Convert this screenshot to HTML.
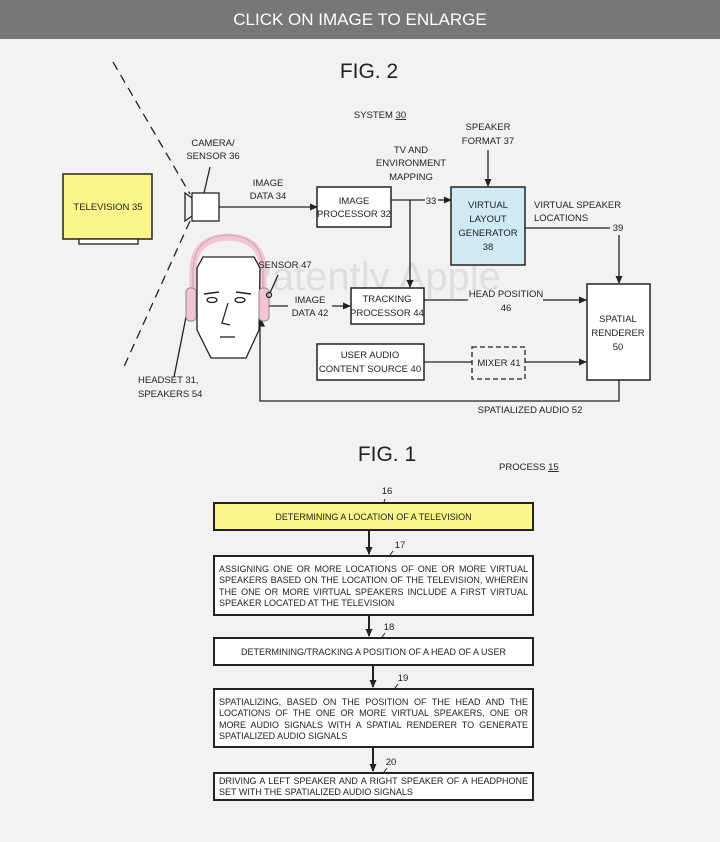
<!DOCTYPE html>
<html><head><meta charset="utf-8"><style>
html,body{margin:0;padding:0;background:#f2f2f2;}
body{width:720px;height:842px;overflow:hidden;position:relative;font-family:"Liberation Sans",sans-serif;}
.hdr{position:absolute;left:0;top:0;width:720px;height:39px;background:#777;color:#fff;font-size:17px;text-align:center;line-height:39px;}
.box{position:absolute;box-sizing:border-box;border:2px solid #222;background:#fff;font-size:9px;color:#222;padding:3px 4px;line-height:11.3px;white-space:nowrap;}
.box div{text-align:justify;text-align-last:justify;}
.box div.l{text-align:left;text-align-last:left;}
.c{text-align:center;}
</style></head><body>
<div class="hdr">CLICK ON IMAGE TO ENLARGE</div>
<svg width="720" height="842" style="position:absolute;left:0;top:0" font-family="Liberation Sans, sans-serif" fill="#222">
<defs><marker id="a" markerWidth="8" markerHeight="8" refX="7" refY="4" orient="auto" markerUnits="userSpaceOnUse"><path d="M0,0.5 L8,4 L0,7.5z" fill="#222"/></marker></defs>
<text x="369" y="78" font-size="21" text-anchor="middle">FIG. 2</text>
<text x="380" y="118" font-size="9.5" text-anchor="middle">SYSTEM <tspan text-decoration="underline">30</tspan></text>
<text x="373" y="290" font-size="40" fill="#ccc" opacity="0.5" text-anchor="middle">Patently Apple</text>
<g stroke="#222" stroke-width="1.3" fill="none">
<line x1="113" y1="62" x2="190" y2="194" stroke-dasharray="9,6"/>
<line x1="190" y1="221" x2="122" y2="371" stroke-dasharray="9,6"/>
<rect x="63" y="174" width="89" height="65" fill="#fbf58a" stroke-width="1.5"/>
<rect x="79" y="239" width="59" height="5" fill="#fff"/>
<rect x="192" y="193" width="27" height="28" fill="#fff"/>
<path d="M192,198 L185,193 L185,221 L192,216"/>
<line x1="210" y1="167" x2="204" y2="193"/>
<line x1="219" y1="207" x2="317" y2="207" marker-end="url(#a)"/>
<rect x="317" y="187" width="74" height="40" fill="#fff" stroke-width="1.5"/>
<line x1="391" y1="200" x2="425" y2="200"/>
<line x1="438" y1="200" x2="451" y2="200" marker-end="url(#a)"/>
<line x1="410" y1="200" x2="410" y2="287" marker-end="url(#a)"/>
<line x1="488" y1="150" x2="488" y2="186" marker-end="url(#a)"/>
<rect x="451" y="187" width="74" height="78" fill="#cfe9f5" stroke-width="1.5"/>
<line x1="525" y1="228" x2="610" y2="228"/>
<line x1="619" y1="235" x2="619" y2="283" marker-end="url(#a)"/>
<rect x="587" y="284" width="63" height="96" fill="#fff" stroke-width="1.5"/>
<rect x="351" y="288" width="73" height="36" fill="#fff" stroke-width="1.5"/>
<line x1="424" y1="300" x2="468" y2="300"/><line x1="543" y1="300" x2="586" y2="300" marker-end="url(#a)"/>
<line x1="268" y1="306" x2="288" y2="306"/><line x1="332" y1="306" x2="350" y2="306" marker-end="url(#a)"/>
<rect x="317" y="344" width="107" height="36" fill="#fff" stroke-width="1.5"/>
<line x1="424" y1="362" x2="472" y2="362"/>
<rect x="472" y="347" width="53" height="32" stroke-dasharray="5,3"/>
<line x1="525" y1="362" x2="586" y2="362" marker-end="url(#a)"/>
<polyline points="619,380 619,401 260,401 260,321"/>
<path d="M256,326 L260,318 L264,326z" fill="#222"/>
<line x1="174" y1="377" x2="186" y2="317"/>
<line x1="278" y1="275" x2="270" y2="293"/>
<path d="M193,290 L193,268 Q195,238 228,237 Q261,238 263,268 L263,290" stroke="#f2c4d4" stroke-width="7"/>
<path d="M193,290 L193,268 Q195,236 228,235 Q261,236 263,268 L263,290" stroke="#999" stroke-width="0.6"/>
<path d="M203,257 L254,257 L260,268 L259,330 L246,358 L211,358 L197,330 L197,268 Z" fill="#fff"/>
<rect x="186" y="288" width="10" height="33" rx="4" fill="#f2c4d4" stroke="#888" stroke-width="1"/>
<rect x="259" y="288" width="10" height="33" rx="4" fill="#f2c4d4" stroke="#888" stroke-width="1"/>
<circle cx="269" cy="295" r="2.5"/>
<path d="M204,294 L219,292 M236,292 L251,294" stroke-width="1.5"/>
<ellipse cx="212" cy="300" rx="5" ry="2.5"/><ellipse cx="240" cy="300" rx="5" ry="2.5"/>
<path d="M228,303 L222,323 L230,325"/>
<line x1="220" y1="337" x2="235" y2="337"/>
</g>
<g font-size="9.5" text-anchor="middle">
<text x="108" y="210">TELEVISION 35</text>
<text x="213" y="146">CAMERA/</text><text x="213" y="159">SENSOR 36</text>
<text x="268" y="186">IMAGE</text><text x="268" y="199">DATA 34</text>
<text x="354" y="204">IMAGE</text><text x="354" y="217">PROCESSOR 32</text>
<text x="411" y="153">TV AND</text><text x="411" y="166">ENVIRONMENT</text><text x="411" y="180">MAPPING</text>
<text x="431" y="204">33</text>
<text x="488" y="130">SPEAKER</text><text x="488" y="144">FORMAT 37</text>
<text x="488" y="208">VIRTUAL</text><text x="488" y="222">LAYOUT</text><text x="488" y="236">GENERATOR</text><text x="488" y="250">38</text>
<text x="534" y="208" text-anchor="start">VIRTUAL SPEAKER</text><text x="534" y="221" text-anchor="start">LOCATIONS</text>
<text x="618" y="231">39</text>
<text x="618" y="322">SPATIAL</text><text x="618" y="336">RENDERER</text><text x="618" y="350">50</text>
<text x="387" y="302">TRACKING</text><text x="387" y="316">PROCESSOR 44</text>
<text x="506" y="297">HEAD POSITION</text><text x="506" y="311">46</text>
<text x="310" y="303">IMAGE</text><text x="310" y="316">DATA 42</text>
<text x="285" y="268">SENSOR 47</text>
<text x="370" y="358">USER AUDIO</text><text x="370" y="372">CONTENT SOURCE 40</text>
<text x="499" y="366">MIXER 41</text>
<text x="530" y="413">SPATIALIZED AUDIO 52</text>
<text x="138" y="383" text-anchor="start">HEADSET 31,</text><text x="138" y="397" text-anchor="start">SPEAKERS 54</text>
</g>
<text x="387" y="461" font-size="21" text-anchor="middle">FIG. 1</text>
<text x="499" y="470" font-size="9.5">PROCESS <tspan text-decoration="underline">15</tspan></text>
<g font-size="9.5" text-anchor="middle">
<text x="387" y="494">16</text><text x="400" y="548">17</text><text x="389" y="630">18</text><text x="403" y="681">19</text><text x="391" y="765">20</text>
</g>
<g stroke="#222" stroke-width="2">
<line x1="369" y1="531" x2="369" y2="554" marker-end="url(#a)"/>
<line x1="369" y1="616" x2="369" y2="636" marker-end="url(#a)"/>
<line x1="373" y1="666" x2="373" y2="687" marker-end="url(#a)"/>
<line x1="373" y1="748" x2="373" y2="771" marker-end="url(#a)"/>
</g>
<g stroke="#222" stroke-width="1"><line x1="385" y1="499" x2="384" y2="502"/><line x1="393" y1="551" x2="390" y2="555"/><line x1="385" y1="633" x2="382" y2="637"/><line x1="398" y1="684" x2="395" y2="688"/><line x1="387" y1="768" x2="384" y2="772"/></g>
</svg>
<div class="box c" style="left:213px;top:502px;width:321px;height:29px;background:#fbf58a;line-height:21px;">DETERMINING A LOCATION OF A TELEVISION</div>
<div class="box" style="left:213px;top:555px;width:321px;height:61px;padding-top:7px;">
<div>ASSIGNING ONE OR MORE LOCATIONS OF ONE OR MORE VIRTUAL</div>
<div>SPEAKERS BASED ON THE LOCATION OF THE TELEVISION, WHEREIN</div>
<div>THE ONE OR MORE VIRTUAL SPEAKERS INCLUDE A FIRST VIRTUAL</div>
<div class="l">SPEAKER LOCATED AT THE TELEVISION</div></div>
<div class="box c" style="left:213px;top:637px;width:321px;height:29px;line-height:21px;">DETERMINING/TRACKING A POSITION OF A HEAD OF A USER</div>
<div class="box" style="left:213px;top:688px;width:321px;height:60px;padding-top:7px;">
<div>SPATIALIZING, BASED ON THE POSITION OF THE HEAD AND THE</div>
<div>LOCATIONS OF THE ONE OR MORE VIRTUAL SPEAKERS, ONE OR</div>
<div>MORE AUDIO SIGNALS WITH A SPATIAL RENDERER TO GENERATE</div>
<div class="l">SPATIALIZED AUDIO SIGNALS</div></div>
<div class="box" style="left:213px;top:772px;width:321px;height:29px;padding-top:2px;">
<div>DRIVING A LEFT SPEAKER AND A RIGHT SPEAKER OF A HEADPHONE</div>
<div class="l">SET WITH THE SPATIALIZED AUDIO SIGNALS</div></div>
</body></html>
